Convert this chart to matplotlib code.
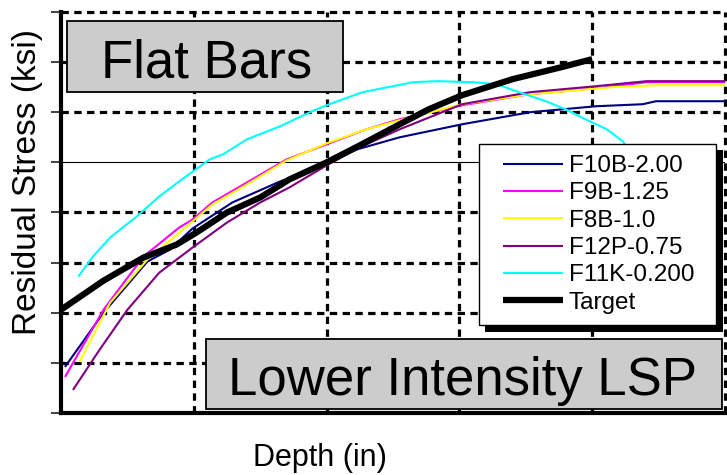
import matplotlib
matplotlib.use("Agg")
import matplotlib.pyplot as plt
from matplotlib.patches import Rectangle

plt.rcParams['font.family'] = ['Liberation Sans', 'DejaVu Sans']

# Residual stress profiles (depth in inches, stress in ksi)
f10b_depth = [0.0003, 0.0032, 0.0065, 0.0082, 0.0099, 0.0129, 0.0165, 0.0195, 0.0223,
              0.0255, 0.0302, 0.0353, 0.0403, 0.0438, 0.0448, 0.0500]
f10b_stress = [-81.6, -60.0, -39.6, -34.8, -26.4, -16.0, -7.6, -1.6, 5.2,
               10.0, 15.2, 20.0, 22.4, 23.2, 24.4, 24.4]

f9b_depth = [0.0003, 0.0032, 0.0062, 0.0089, 0.0099, 0.0114, 0.0140, 0.0170, 0.0200,
             0.0230, 0.0255, 0.0302, 0.0353, 0.0403, 0.0441, 0.0500]
f9b_stress = [-85.6, -58.8, -37.6, -26.0, -22.8, -16.0, -8.0, 1.2, 7.2,
              13.2, 17.2, 22.8, 27.2, 29.6, 32.0, 32.0]

f8b_depth = [0.0014, 0.0037, 0.0065, 0.0099, 0.0114, 0.0140, 0.0170, 0.0200, 0.0230,
             0.0255, 0.0302, 0.0353, 0.0415, 0.0450, 0.0500]
f8b_stress = [-79.6, -56.0, -38.8, -23.6, -16.8, -8.8, 0.8, 7.6, 13.2,
              16.8, 23.2, 27.2, 30.0, 30.8, 30.8]

f12p_depth = [0.0009, 0.0029, 0.0050, 0.0074, 0.0099, 0.0125, 0.0150, 0.0172, 0.0200,
              0.0225, 0.0255, 0.0302, 0.0353, 0.0403, 0.0441, 0.0500]
f12p_stress = [-90.8, -74.8, -58.8, -44.0, -34.0, -24.0, -16.0, -10.0, -1.2,
               6.0, 13.2, 23.2, 28.0, 30.4, 32.4, 32.4]

f11k_depth = [0.0013, 0.0024, 0.0037, 0.0057, 0.0074, 0.0089, 0.0112, 0.0122, 0.0140,
              0.0165, 0.0189, 0.0202, 0.0227, 0.0265, 0.0283, 0.0310, 0.0328, 0.0345,
              0.0365, 0.0380, 0.0395, 0.0411, 0.0423, 0.0435]
f11k_stress = [-45.6, -37.6, -30.0, -21.6, -13.6, -7.6, 1.2, 3.2, 9.2,
               14.4, 20.4, 23.2, 28.0, 32.0, 32.4, 32.0, 31.2, 28.0,
               24.4, 21.2, 17.2, 13.2, 8.4, -0.8]

target_depth = [0.0000, 0.0032, 0.0062, 0.0087, 0.0102, 0.0125, 0.0150, 0.0172, 0.0200,
                0.0225, 0.0255, 0.0277, 0.0302, 0.0340, 0.0377, 0.0400]
target_stress = [-58.8, -47.2, -38.0, -32.8, -28.0, -20.0, -14.0, -6.8, 0.0,
                 6.8, 15.2, 21.2, 26.8, 33.2, 38.0, 41.2]

x_ticks = [0.0, 0.01, 0.02, 0.03, 0.04, 0.05]
y_ticks = [-100, -80, -60, -40, -20, 0, 20, 40, 60]

W, H = 727, 475
fig = plt.figure(figsize=(W / 100, H / 100), dpi=100)
ax = fig.add_axes([61 / W, 1 - 413 / H, (725 - 61) / W, (413 - 12) / H])

series = [
    (f10b_depth, f10b_stress, '#000080', 1.5, 'F10B-2.00'),
    (f9b_depth, f9b_stress, '#FF00FF', 1.5, 'F9B-1.25'),
    (f8b_depth, f8b_stress, '#FFFF00', 1.5, 'F8B-1.0'),
    (f12p_depth, f12p_stress, '#800080', 1.5, 'F12P-0.75'),
    (f11k_depth, f11k_stress, '#00FFFF', 1.5, 'F11K-0.200'),
    (target_depth, target_stress, '#000000', 4.5, 'Target'),
]
handles = []
for xs, ys, col, lw, lab in series:
    h, = ax.plot(xs, ys, color=col, lw=lw, label=lab, zorder=3,
                 solid_capstyle='butt', solid_joinstyle='round')
    handles.append(h)

ax.set_xlim(0, 0.05)
ax.set_ylim(-100, 60)
ax.set_xticks(x_ticks)
ax.set_yticks(y_ticks)
ax.tick_params(axis='x', length=0, labelbottom=False)
ax.tick_params(axis='y', direction='out', length=7, width=1.3, color='#333333',
               labelleft=False)

# Dotted grid, with a thin solid line at zero stress
grid_style = dict(color='black', lw=2.3, linestyle=(0, (2.3, 1.7)), zorder=1,
                  clip_on=False)
for v in y_ticks[1:]:
    if v == 0:
        ax.axhline(v, color='black', lw=0.8, zorder=1)
    else:
        ax.axhline(v, **grid_style)
for v in x_ticks[1:]:
    ax.axvline(v, **grid_style)

ax.spines['left'].set_linewidth(3)
ax.spines['bottom'].set_linewidth(3)
ax.spines['left'].set_zorder(4)
ax.spines['bottom'].set_zorder(4)
ax.spines['top'].set_visible(False)
ax.spines['right'].set_visible(False)

fig.text(28 / W, 1 - 182 / H, 'Residual Stress (ksi)', fontsize=24, rotation=90,
         ha='center', va='center')
fig.text(320 / W, 1 - 458 / H, 'Depth (in)', fontsize=22, ha='center', va='center')

# Caption boxes
def caption(x0, y0, x1, y1, text, cx, base):
    rect = Rectangle((x0 / W, 1 - y1 / H), (x1 - x0) / W, (y1 - y0) / H,
                     transform=fig.transFigure, facecolor='#cccccc',
                     edgecolor='black', lw=1.3, zorder=5)
    fig.patches.append(rect)
    fig.text(cx / W, 1 - base / H, text, fontsize=38, ha='center',
             va='baseline', zorder=6)

caption(67, 21, 343, 92, 'Flat Bars', 207, 77)
caption(206, 339, 722, 409, 'Lower Intensity LSP', 463, 395)

# Legend with drop shadow
fig.patches.append(Rectangle((485 / W, 1 - 332 / H), (723 - 485) / W, (332 - 150) / H,
                             transform=fig.transFigure, facecolor='black',
                             edgecolor='none', zorder=7))
fig.patches.append(Rectangle((479 / W, 1 - 325 / H), (716 - 479) / W, (325 - 144) / H,
                             transform=fig.transFigure, facecolor='white',
                             edgecolor='black', lw=1.0, zorder=8))
leg = fig.legend(handles=handles, loc='upper left',
                 bbox_to_anchor=(503 / W, 1 - 155 / H), bbox_transform=fig.transFigure,
                 frameon=False, fontsize=17.5, borderpad=0, borderaxespad=0,
                 labelspacing=0.22, handlelength=2.45, handletextpad=0.25)
leg.set_zorder(9)

fig.savefig('out.png', dpi=100)
